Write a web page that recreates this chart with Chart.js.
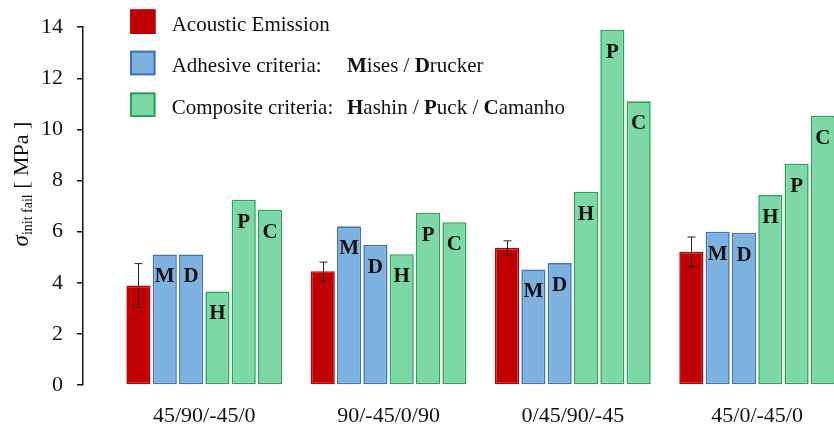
<!DOCTYPE html>
<html><head><meta charset="utf-8">
<script src="https://cdn.jsdelivr.net/npm/chart.js@4.4.1/dist/chart.umd.min.js"></script>
<style>html,body{margin:0;padding:0;background:#fff;overflow:hidden}canvas{display:block}</style>
</head><body>
<canvas id="c" width="834" height="430"></canvas>
<script>
const categories = ['45/90/-45/0', '90/-45/0/90', '0/45/90/-45', '45/0/-45/0'];
const acousticEmission = [3.89, 4.45, 5.36, 5.21];
const acousticError = [0.86, 0.36, 0.28, 0.58];
const mises = [5.11, 6.21, 4.52, 6.00];
const drucker = [5.11, 5.48, 4.77, 5.96];
const hashin = [3.66, 5.12, 7.56, 7.43];
const puck = [7.25, 6.74, 13.89, 8.66];
const camanho = [6.86, 6.37, 11.10, 10.54];
const yTicks = [0, 2, 4, 6, 8, 10, 12, 14];
const barLetters = ['', 'M', 'D', 'H', 'P', 'C'];
const legendRows = [
  [['Acoustic Emission', false]],
  [['Adhesive criteria:', false], ['M', true], ['ises / ', false], ['D', true], ['rucker', false]],
  [['Composite criteria:', false], ['H', true], ['ashin / ', false], ['P', true], ['uck / ', false], ['C', true], ['amanho', false]]
];

const SERIF = '"Liberation Serif", "Times New Roman", serif';
const RED = '#C00000';
const BLUE_FILL = '#7DB1DF', BLUE_LINE = '#3E73B2';
const GREEN_FILL = '#7ED8A6', GREEN_LINE = '#22A855';

function toXY(arr) { return arr.map((v, i) => ({ x: i + 1, y: v })); }
function ds(label, arr, fill, line) {
  return { label, data: toXY(arr), backgroundColor: fill, borderColor: line,
           borderWidth: 1.6, borderSkipped: false,
           categoryPercentage: 0.857, barPercentage: 0.916 };
}

const extras = {
  id: 'extras',
  afterDatasetsDraw(chart) {
    const ctx = chart.ctx, y = chart.scales.y;
    const meta0 = chart.getDatasetMeta(0);
    ctx.save();
    ctx.strokeStyle = '#222';
    ctx.lineWidth = 1;
    meta0.data.forEach((bar, i) => {
      const v = acousticEmission[i], e = acousticError[i];
      const yt = y.getPixelForValue(v + e), yb = y.getPixelForValue(v - e);
      const x = Math.round(bar.x) + 0.5;
      ctx.beginPath();
      ctx.moveTo(x, yt); ctx.lineTo(x, yb);
      ctx.moveTo(x - 4, yt); ctx.lineTo(x + 4, yt);
      ctx.moveTo(x - 4, yb); ctx.lineTo(x + 4, yb);
      ctx.stroke();
    });
    ctx.fillStyle = '#111';
    ctx.font = 'bold 21px ' + SERIF;
    ctx.textAlign = 'center';
    ctx.textBaseline = 'alphabetic';
    for (let d = 1; d < chart.data.datasets.length; d++) {
      chart.getDatasetMeta(d).data.forEach(bar => {
        ctx.fillText(barLetters[d], bar.x, bar.y + 28);
      });
    }
    ctx.restore();
  },
  afterDraw(chart) {
    const ctx = chart.ctx;
    ctx.save();
    const sw = [[RED, RED], [BLUE_FILL, BLUE_LINE], [GREEN_FILL, GREEN_LINE]];
    const rowCenters = [21.7, 63, 104.7];
    legendRows.forEach((row, r) => {
      const cy = rowCenters[r];
      ctx.fillStyle = sw[r][0];
      ctx.fillRect(130, cy - 12.3, 25.5, 24.6);
      ctx.strokeStyle = sw[r][1];
      ctx.lineWidth = 2;
      ctx.strokeRect(131, cy - 11.3, 23.5, 22.6);
      let x = 171.7;
      ctx.fillStyle = '#111';
      ctx.textAlign = 'left';
      ctx.textBaseline = 'alphabetic';
      row.forEach(([t, bold], k) => {
        if (k === 1) x = 347;
        ctx.font = (bold ? 'bold ' : '') + '21px ' + SERIF;
        ctx.fillText(t, x, cy + 9);
        x += ctx.measureText(t).width;
      });
    });
    ctx.translate(28, 184);
    ctx.rotate(-Math.PI / 2);
    const parts = [['σ', 'italic 23px ' + SERIF, 0], ['init fail', '14px ' + SERIF, 4], [' [ MPa ]', '22px ' + SERIF, 0]];
    let total = 0;
    parts.forEach(p => { ctx.font = p[1]; total += ctx.measureText(p[0]).width; });
    let x = -total / 2;
    ctx.fillStyle = '#111';
    ctx.textAlign = 'left';
    ctx.textBaseline = 'alphabetic';
    parts.forEach(p => { ctx.font = p[1]; ctx.fillText(p[0], x, p[2]); x += ctx.measureText(p[0]).width; });
    ctx.restore();
  }
};

new Chart(document.getElementById('c'), {
  type: 'bar',
  data: {
    datasets: [
      ds('Acoustic Emission', acousticEmission, RED, RED),
      ds('Mises', mises, BLUE_FILL, BLUE_LINE),
      ds('Drucker', drucker, BLUE_FILL, BLUE_LINE),
      ds('Hashin', hashin, GREEN_FILL, GREEN_LINE),
      ds('Puck', puck, GREEN_FILL, GREEN_LINE),
      ds('Camanho', camanho, GREEN_FILL, GREEN_LINE)
    ]
  },
  options: {
    responsive: false,
    animation: false,
    devicePixelRatio: 1,
    layout: { padding: { top: 13, right: 0, left: 0, bottom: 0 } },
    plugins: { legend: { display: false }, tooltip: { enabled: false } },
    scales: {
      x: {
        type: 'linear',
        bounds: 'data',
        offset: false,
        min: 0.342,
        max: 4.417,
        grid: { display: false, drawTicks: false, offset: false },
        border: { display: false },
        afterBuildTicks: s => { s.ticks = categories.map((c, i) => ({ value: i + 1 })); },
        afterFit: s => { s.height = 45; },
        ticks: {
          autoSkip: false, maxRotation: 0, padding: 18,
          color: '#111', font: { family: SERIF, size: 22 },
          callback: v => categories[Math.round(v) - 1] || ''
        }
      },
      y: {
        min: 0, max: 14,
        afterBuildTicks: s => { s.ticks = yTicks.map(v => ({ value: v })); },
        afterFit: s => { s.width = 83; },
        grid: { drawOnChartArea: false, drawTicks: true, tickLength: 6, color: '#111', lineWidth: 1.5 },
        border: { display: true, color: '#111', width: 1.5 },
        ticks: { padding: 14, color: '#111', font: { family: SERIF, size: 22 } }
      }
    }
  },
  plugins: [extras]
});
</script>
</body></html>
